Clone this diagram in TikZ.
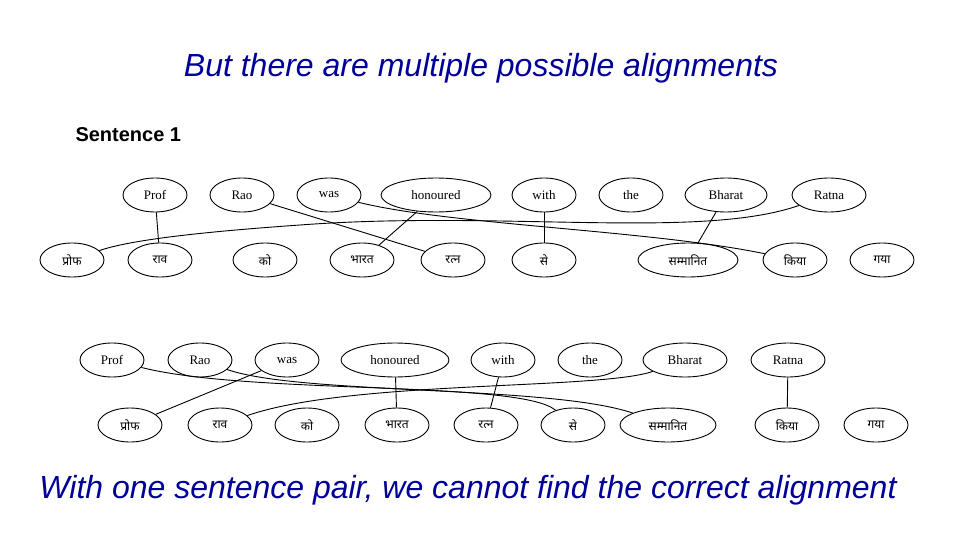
\documentclass[tikz,border=0pt]{standalone}
\usepackage{fontspec}
\setmainfont{Liberation Serif}
\setsansfont{Liberation Sans}
\newfontfamily\hin[Script=Devanagari]{Noto Sans}
\usetikzlibrary{shapes.geometric}
\begin{document}
\begin{tikzpicture}[x=1pt,y=-1pt,
  w/.style={ellipse,draw,line width=0.9pt,minimum width=64pt,minimum height=34pt,inner sep=0pt,font=\fontsize{13}{15}\selectfont},
  h/.style={w,font=\hin\fontsize{12}{14}\selectfont},
  ln/.style={line width=0.9pt}]
\useasboundingbox (0,0) rectangle (960,540);
\node[font=\sffamily\itshape\fontsize{32}{36}\selectfont,text=blue!60!black] (title) at (481,68) {But there are multiple possible alignments};
\node[font=\sffamily\bfseries\fontsize{20}{24}\selectfont,anchor=west] (s1) at (72,135) {Sentence 1};
\node[font=\sffamily\itshape\fontsize{32}{36}\selectfont,text=blue!60!black] (foot) at (468,490) {With one sentence pair, we cannot find the correct alignment};
% row 1
\node[w] (a1) at (155,195) {Prof};
\node[w] (a2) at (242,195) {Rao};
\node[w] (a3) at (329,195) {was};
\node[w,minimum width=110pt] (a4) at (436,195) {honoured};
\node[w] (a5) at (544,195) {with};
\node[w] (a6) at (631,195) {the};
\node[w,minimum width=82pt] (a7) at (726,195) {Bharat};
\node[w,minimum width=74pt] (a8) at (829,195) {Ratna};
\node[h] (b1) at (72,260) {प्रोफ};
\node[h] (b2) at (160,260) {राव};
\node[h] (b3) at (265,260) {को};
\node[h] (b4) at (362,260) {भारत};
\node[h] (b5) at (453,260) {रत्न};
\node[h] (b6) at (544,260) {से};
\node[h,minimum width=100pt] (b7) at (688,260) {सम्मानित};
\node[h] (b8) at (795,260) {किया};
\node[h] (b9) at (882,260) {गया};
\draw[ln] (a1) -- (b2);
\draw[ln] (a2) -- (b5);
\draw[ln] (a3) .. controls (450,225) and (650,230) .. (b8);
\draw[ln] (a4) -- (b4);
\draw[ln] (a5) -- (b6);
\draw[ln] (a7) -- (b7);
\draw[ln] (a8) .. controls (700,240) and (500,210) .. (300,225) .. controls (200,232) and (130,240) .. (b1);
% row 2
\node[w] (c1) at (112,360) {Prof};
\node[w] (c2) at (200,360) {Rao};
\node[w] (c3) at (287,360) {was};
\node[w,minimum width=108pt] (c4) at (395,360) {honoured};
\node[w] (c5) at (503,360) {with};
\node[w] (c6) at (590,360) {the};
\node[w,minimum width=84pt] (c7) at (685,360) {Bharat};
\node[w,minimum width=74pt] (c8) at (788,360) {Ratna};
\node[h] (d1) at (130,425) {प्रोफ};
\node[h] (d2) at (220,425) {राव};
\node[h] (d3) at (307,425) {को};
\node[h] (d4) at (397,425) {भारत};
\node[h] (d5) at (486,425) {रत्न};
\node[h] (d6) at (573,425) {से};
\node[h,minimum width=96pt] (d7) at (668,425) {सम्मानित};
\node[h] (d8) at (787,425) {किया};
\node[h] (d9) at (876,425) {गया};
\draw[ln] (c1) .. controls (250,395) and (520,380) .. (d6);
\draw[ln] (c2) .. controls (300,395) and (550,385) .. (d7);
\draw[ln] (c3) -- (d1);
\draw[ln] (c4) -- (d4);
\draw[ln] (c5) -- (d5);
\draw[ln] (c7) .. controls (600,390) and (350,380) .. (d2);
\draw[ln] (c8) -- (d8);
\end{tikzpicture}
\end{document}
